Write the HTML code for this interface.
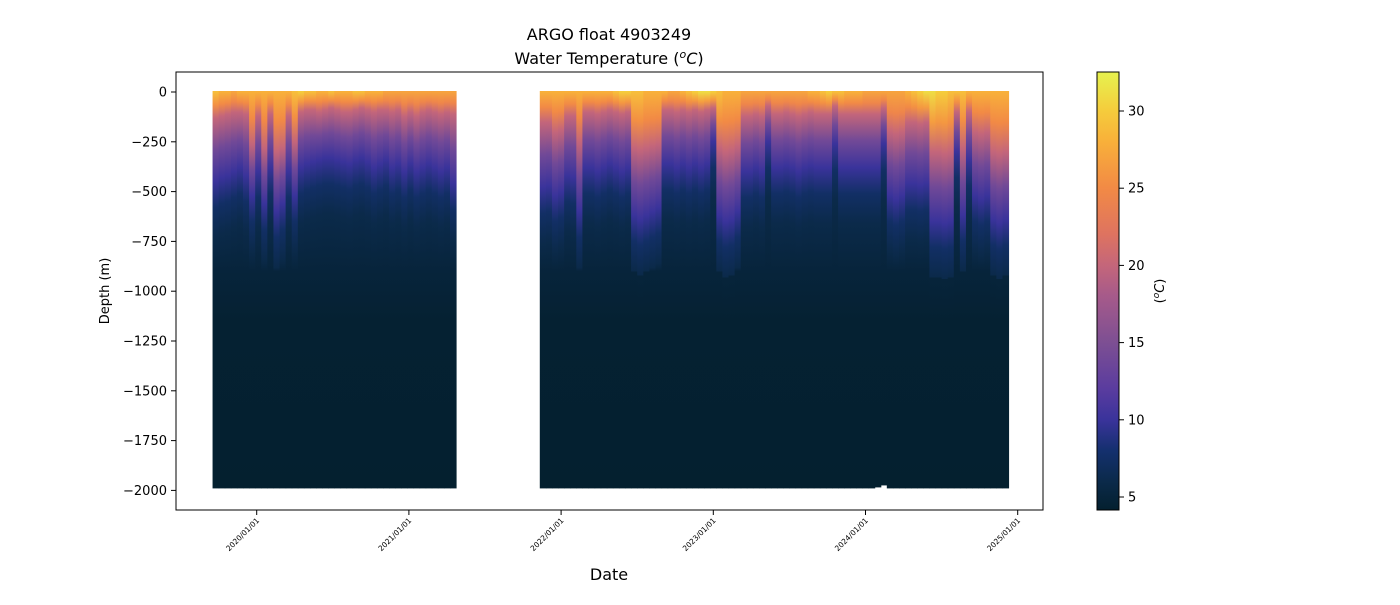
<!DOCTYPE html>
<html><head><meta charset="utf-8"><style>
body{margin:0;background:#fff;}
svg text{font-family:"DejaVu Sans","Liberation Sans",sans-serif;fill:#000;}
</style></head><body>
<svg id="chart" width="1400" height="600" xmlns="http://www.w3.org/2000/svg">
<defs id="defs"></defs>
<text x="609" y="40" font-size="16" text-anchor="middle">ARGO float 4903249</text>
<text x="609" y="64" font-size="16" text-anchor="middle">Water Temperature (<tspan font-size="11" dy="-6" font-style="italic">o</tspan><tspan dy="6" font-style="italic">C</tspan>)</text>
<g id="marks"></g>
<rect x="176" y="72" width="867" height="438" fill="none" stroke="#000" stroke-width="1"/>
<g id="yaxis"></g>
<g id="xaxis"></g>
<text transform="translate(109,291) rotate(-90)" font-size="13" text-anchor="middle">Depth (m)</text>
<text x="609" y="580" font-size="16" text-anchor="middle">Date</text>
<rect id="cbar" x="1097" y="72" width="22" height="438" stroke="#000" stroke-width="1"/>
<g id="cbaxis"></g>
<text transform="translate(1164,291) rotate(-90)" font-size="13" text-anchor="middle">(<tspan font-size="9" dy="-5" font-style="italic">o</tspan><tspan dy="5" font-style="italic">C</tspan>)</text>
</svg>
<script>
const dates1=[2019.71,2019.75,2019.79,2019.83,2019.87,2019.91,2019.95,2019.99,2020.03,2020.07,2020.11,2020.15,2020.19,2020.23,2020.27,2020.31,2020.35,2020.39,2020.43,2020.47,2020.51,2020.55,2020.59,2020.63,2020.67,2020.71,2020.75,2020.79,2020.83,2020.87,2020.91,2020.95,2020.99,2021.03,2021.07,2021.11,2021.15,2021.19,2021.23,2021.27];
const d20s1=[130,120,110,100,100,110,260,120,280,110,300,280,120,250,100,90,90,100,90,80,90,100,100,90,80,90,100,90,90,100,90,120,100,120,100,90,100,110,100,110];
const d10s1=[450,430,420,400,380,420,520,400,560,380,600,560,400,520,380,360,350,340,330,330,340,350,360,340,330,350,380,360,340,380,360,400,360,400,380,360,380,400,380,460];
const sst1=[29,28,28,27,28,28,28,28,28,28,28,28,28,29,30,29,29,28,28,29,28,28,28,29,29,28,28,28,27,27,27,27,27,27,27,27,27,27,27,27];
const dates2=[2021.86,2021.90,2021.94,2021.98,2022.02,2022.06,2022.10,2022.14,2022.18,2022.22,2022.26,2022.30,2022.34,2022.38,2022.42,2022.46,2022.50,2022.54,2022.58,2022.62,2022.66,2022.70,2022.74,2022.78,2022.82,2022.86,2022.90,2022.94,2022.98,2023.02,2023.06,2023.10,2023.14,2023.18,2023.22,2023.26,2023.30,2023.34,2023.38,2023.42,2023.46,2023.50,2023.54,2023.58,2023.62,2023.66,2023.70,2023.74,2023.78,2023.82,2023.86,2023.90,2023.94,2023.98,2024.02,2024.06,2024.10,2024.14,2024.18,2024.22,2024.26,2024.30,2024.34,2024.38,2024.42,2024.46,2024.50,2024.54,2024.58,2024.62,2024.66,2024.70,2024.74,2024.78,2024.82,2024.86,2024.90];
const d20s2=[150,150,200,190,120,120,250,100,100,110,100,90,100,110,100,280,290,280,270,260,90,90,100,90,100,90,100,90,80,280,300,290,270,120,120,110,120,70,110,110,100,110,120,110,100,110,110,110,70,110,110,110,110,110,110,110,80,200,210,200,150,150,160,150,300,300,310,300,100,280,100,200,210,200,300,310,300];
const d10s2=[480,470,520,500,420,430,600,380,380,400,380,360,380,400,380,620,640,620,600,580,360,360,380,360,380,360,380,360,250,620,650,640,600,400,400,380,400,250,380,380,370,380,400,380,370,380,380,380,260,380,380,380,380,380,380,380,260,520,540,520,460,460,470,460,650,650,660,650,300,620,340,520,540,520,640,660,640];
const sst2=[28,28,28,28,28,28,28,28,28,28,28,28,29,30,30,29,29,28,28,28,28,27,27,28,29,30,31,31,30,29,28,28,28,27,27,27,27,27,27,27,27,27,27,27,28,28,29,30,29,29,28,28,28,27,27,27,27,27,27,27,28,29,30,31,31,30,30,29,29,29,28,28,28,28,28,28,28];
const maxd2=[1990,1990,1990,1990,1990,1990,1990,1990,1990,1990,1990,1990,1990,1990,1990,1990,1990,1990,1990,1990,1990,1990,1990,1990,1990,1990,1990,1990,1990,1990,1990,1990,1990,1990,1990,1990,1990,1990,1990,1990,1990,1990,1990,1990,1990,1990,1990,1990,1990,1990,1990,1990,1990,1990,1990,1985,1975,1990,1990,1990,1990,1990,1990,1990,1990,1990,1990,1990,1990,1990,1990,1990,1990,1990,1990,1990,1990];
const yTicks=[0,-250,-500,-750,-1000,-1250,-1500,-1750,-2000];
const xTickYears=[2020,2021,2022,2023,2024,2025];
const xTickLabels=["2020/01/01","2021/01/01","2022/01/01","2023/01/01","2024/01/01","2025/01/01"];
const cbTicks=[5,10,15,20,25,30];

const cmap=[[4.2,[4,32,47]],[6,[11,42,74]],[8,[20,48,110]],[10,[58,51,155]],[12,[90,60,159]],[15,[125,79,147]],[18,[166,90,138]],[20,[196,102,122]],[22,[222,115,96]],[25,[242,138,69]],[28,[248,176,58]],[30,[245,204,60]],[32.5,[230,242,79]]];
function color(v){
  if(v<=cmap[0][0])return 'rgb('+cmap[0][1]+')';
  for(let i=1;i<cmap.length;i++){if(v<=cmap[i][0]){const a=cmap[i-1],b=cmap[i],f=(v-a[0])/(b[0]-a[0]);return 'rgb('+a[1].map((c,k)=>Math.round(c+(b[1][k]-c)*f)).join(',')+')';}}
  return 'rgb('+cmap[cmap.length-1][1]+')';
}
const X=t=>256.7+(t-2020)*152.2;
const Y=d=>92+(-d)*0.1992;
const CB=v=>497-(v-5)*15.44;
const NS='http://www.w3.org/2000/svg';
function mk(tag,attrs,parent){const e=document.createElementNS(NS,tag);for(const k in attrs)e.setAttribute(k,attrs[k]);parent.appendChild(e);return e;}
const defs=document.getElementById('defs'),marks=document.getElementById('marks');
let gid=0;
function drawSeg(dates,d20,d10,sst,maxd){
  dates.forEach((t,i)=>{
    const id='g'+(gid++);
    const g=mk('linearGradient',{id:id,gradientUnits:'userSpaceOnUse',x1:0,x2:0,y1:Y(0),y2:Y(-2000)},defs);
    const stops=[[0,sst[i]],[d20[i]*0.5,(sst[i]+20)/2+1],[d20[i],20],[(d20[i]+d10[i])/2,14],[d10[i],10],[d10[i]+130,7.5],[d10[i]+280,6],[900,5.0],[1150,4.4],[2000,4.2]];
    stops.forEach(s=>mk('stop',{offset:(Math.min(s[0],2000)/2000).toFixed(4),'stop-color':color(s[1])},g));
    const x0=X(t), x1=i<dates.length-1?X(dates[i+1]):x0+6;
    const md=maxd?maxd[i]:1990;
    const r=mk('rect',{x:x0.toFixed(2),y:Y(0)-1,width:(x1-x0+0.6).toFixed(2),height:(Y(-md)-Y(0)+1).toFixed(2),fill:'url(#'+id+')'},marks);
    
    
  });
}
drawSeg(dates1,d20s1,d10s1,sst1,null);
drawSeg(dates2,d20s2,d10s2,sst2,maxd2);
const ya=document.getElementById('yaxis');
yTicks.forEach(v=>{
  mk('line',{x1:171,x2:176,y1:Y(v),y2:Y(v),stroke:'#000'},ya);
  const tx=mk('text',{x:167,y:Y(v)+4.5,'font-size':13,'text-anchor':'end'},ya);
  tx.textContent=v<0?'\u2212'+(-v):String(v);
  
  
});
const xa=document.getElementById('xaxis');
xTickYears.forEach((yr,i)=>{
  const x=X(yr);
  mk('line',{x1:x,x2:x,y1:510,y2:515,stroke:'#000'},xa);
  const tx=mk('text',{transform:'translate('+(x+3)+',521) rotate(-45)','font-size':7.5,'text-anchor':'end'},xa);
  tx.textContent=xTickLabels[i];
  
  
});
const cg=mk('linearGradient',{id:'cbg',x1:0,x2:0,y1:1,y2:0},defs);
cmap.forEach(s=>mk('stop',{offset:((s[0]-4.16)/(32.5-4.16)).toFixed(4),'stop-color':color(s[0])},cg));
document.getElementById('cbar').setAttribute('fill','url(#cbg)');
const ca=document.getElementById('cbaxis');
cbTicks.forEach(v=>{
  mk('line',{x1:1119,x2:1124,y1:CB(v),y2:CB(v),stroke:'#000'},ca);
  const tx=mk('text',{x:1128,y:CB(v)+4.5,'font-size':13},ca);
  tx.textContent=String(v);
  
  
});
</script>
</body></html>
